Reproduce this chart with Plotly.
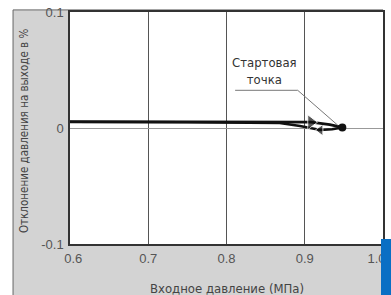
import plotly.graph_objects as go

# ---- data ----
# branch going down from the start point (pressure decreasing)
down_x = [0.948, 0.935, 0.920, 0.894, 0.868, 0.830, 0.75, 0.60]
down_y = [0.0005, -0.0010, -0.0018, 0.0017, 0.0043, 0.0047, 0.0050, 0.0052]
# branch going back up to the start point (pressure increasing)
up_x = [0.60, 0.70, 0.80, 0.880, 0.908, 0.932, 0.948]
up_y = [0.0055, 0.0054, 0.0053, 0.0052, 0.0050, 0.0030, 0.0005]
start_x = [0.948]
start_y = [0.0005]

x_tickvals = [0.6, 0.7, 0.8, 0.9, 1.0]
x_ticktext = ["\u20020.6", "0.7", "0.8", "0.9", "1.0\u2002\u2002"]
y_tickvals = [-0.1, 0, 0.1]
y_ticktext = ["-0.1", "0", "0.1"]

x_title = "Входное давление (МПа)"
y_title = "Отклонение давления на выходе в %"
note_text = "Стартовая<br>точка"

narrow = "Liberation Sans Narrow, DejaVu Sans Condensed, Arial Narrow, sans-serif"
plain = "Liberation Sans, Arial, sans-serif"

fig = go.Figure()

# arrow marker on each branch (only one point shows a marker)
down_sizes = [0] * len(down_x)
down_sizes[2] = 10
up_sizes = [0] * len(up_x)
up_sizes[4] = 13

fig.add_trace(go.Scatter(
    x=down_x, y=down_y, mode="lines+markers",
    line=dict(color="#111111", width=2.5),
    marker=dict(symbol="triangle-left", size=down_sizes, color="#111111"),
    hoverinfo="skip", showlegend=False))
fig.add_trace(go.Scatter(
    x=up_x, y=up_y, mode="lines+markers",
    line=dict(color="#111111", width=2.8),
    marker=dict(symbol="triangle-right", size=up_sizes, color="#111111"),
    hoverinfo="skip", showlegend=False))
fig.add_trace(go.Scatter(
    x=start_x, y=start_y, mode="markers",
    marker=dict(symbol="circle", size=8, color="#111111"),
    hoverinfo="skip", showlegend=False))

shapes = [
    # gray panel
    dict(type="rect", xref="paper", yref="paper", x0=-0.182, x1=1.0, y0=-0.30, y1=1.009,
         fillcolor="#d3d3d3", line=dict(color="#666666", width=1), layer="below"),
    # white plotting area
    dict(type="rect", xref="paper", yref="paper", x0=0, x1=1, y0=0, y1=1,
         fillcolor="white", line=dict(width=0), layer="below"),
    # leader line for the note
    dict(type="path", xref="x", yref="y",
         path=f"M 0.811,0.0325 L 0.891,0.0325 L {start_x[0] - 0.006},{start_y[0] + 0.002}",
         line=dict(color="#777777", width=1), layer="above"),
    # blue strip at the bottom right
    dict(type="rect", xref="paper", yref="paper", x0=0.9936, x1=1.03, y0=-0.30, y1=0.0216,
         fillcolor="#0a6fc4", line=dict(width=0), layer="above"),
]

annotations = [
    dict(text=note_text, x=0.849, y=0.049, xref="x", yref="y", showarrow=False,
         font=dict(family=narrow, size=13, color="#333333"), align="center"),
    dict(text=y_title, x=-0.147, y=0.491, xref="paper", yref="paper", showarrow=False,
         textangle=-90, xanchor="center", yanchor="middle",
         font=dict(family=narrow, size=11.5, color="#444444")),
    dict(text=x_title, x=0.5, y=-0.19, xref="paper", yref="paper", showarrow=False,
         xanchor="center", yanchor="middle",
         font=dict(family=narrow, size=13, color="#444444")),
]

fig.update_layout(
    width=391, height=295,
    margin=dict(l=70, r=8, t=12, b=51),
    paper_bgcolor="white", plot_bgcolor="white",
    shapes=shapes, annotations=annotations,
    showlegend=False,
)
fig.update_xaxes(
    range=[0.6, 1.0], tickvals=x_tickvals, ticktext=x_ticktext,
    showgrid=True, gridcolor="#555555", gridwidth=1,
    showline=True, linecolor="#333333", linewidth=1.5, mirror=True,
    zeroline=False, ticks="", ticklabelstandoff=2, ticklabeloverflow="allow",
    automargin=False,
    tickfont=dict(family=plain, size=13, color="#555555"),
)
fig.update_yaxes(
    range=[-0.1, 0.1], tickvals=y_tickvals, ticktext=y_ticktext,
    showgrid=True, gridcolor="#999999", gridwidth=1,
    showline=True, linecolor="#333333", linewidth=1.5, mirror=True,
    zeroline=False, ticks="", ticklabelstandoff=2, automargin=False,
    tickfont=dict(family=plain, size=13, color="#555555"),
)

fig.write_html("out.html", config={"displayModeBar": False},
               post_script="document.body.style.margin='0';")
